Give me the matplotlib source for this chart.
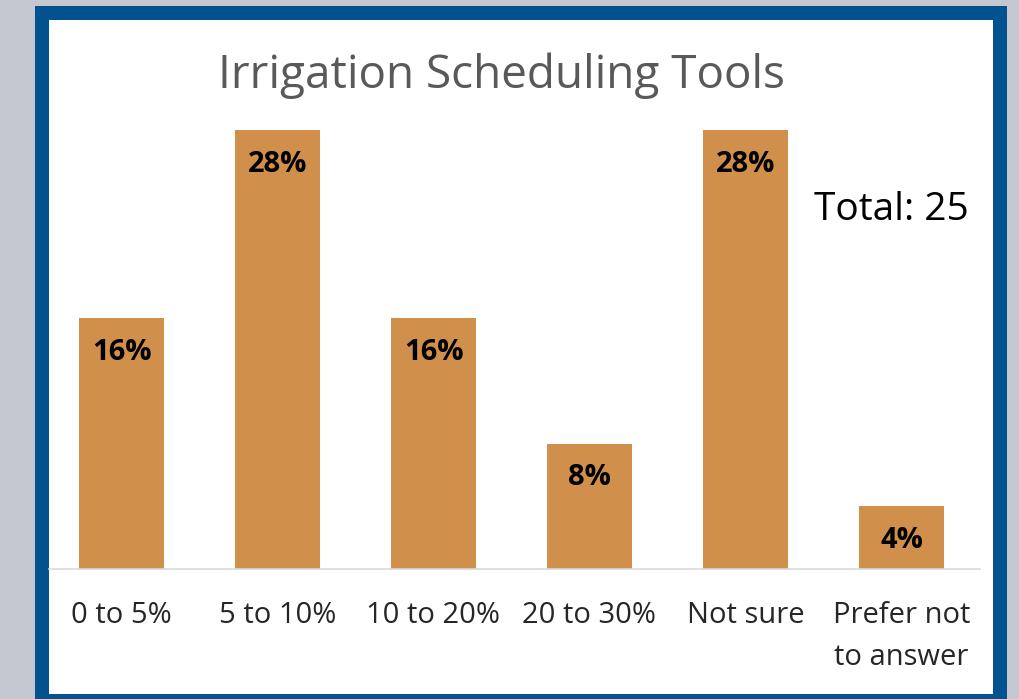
import matplotlib
matplotlib.use("Agg")
import matplotlib.pyplot as plt
from matplotlib.patches import Rectangle

categories = ["0 to 5%", "5 to 10%", "10 to 20%", "20 to 30%", "Not sure", "Prefer not\nto answer"]
percents = [16, 28, 16, 8, 28, 4]
title = "Irrigation Scheduling Tools"
total_text = "Total: 25"

W, H = 1019, 699
plt.rcParams["font.family"] = ["Open Sans", "DejaVu Sans"]

fig = plt.figure(figsize=(W / 100, H / 100), dpi=100, facecolor="#c5c8cf")

# blue frame and white panel, in pixel units converted to figure fractions
def px_rect(x0, y0, x1, y1, color, z):
    fig.patches.append(Rectangle((x0 / W, 1 - y1 / H), (x1 - x0) / W, (y1 - y0) / H,
                                 transform=fig.transFigure, facecolor=color,
                                 edgecolor="none", zorder=z))

px_rect(35, 6, 1007, 699, "#01528f", -2)
px_rect(49, 20, 993, 694, "white", -1)

ax_left, ax_right, ax_top, ax_bottom = 49, 979.5, 120, 569
ax = fig.add_axes([ax_left / W, 1 - ax_bottom / H, (ax_right - ax_left) / W, (ax_bottom - ax_top) / H])
ax.set_facecolor("none")
ax.set_zorder(3)

x = range(len(categories))
ax.bar(x, percents, width=0.545, color="#d08f4a", zorder=2)
ax.set_xlim(-0.5 + (ax_left - 43.5) / 156, 5.5)
ax.set_ylim(0, 28.64)

for xi, v in zip(x, percents):
    ax.text(xi, v - 1.25, f"{v}%", ha="center", va="top", fontsize=21,
            fontweight="bold", color="black", zorder=3)

for s in ["top", "left", "right"]:
    ax.spines[s].set_visible(False)
ax.spines["bottom"].set_color("#d9d9d9")
ax.spines["bottom"].set_linewidth(1.2)
ax.set_yticks([])
ax.set_xticks(list(x))
ax.set_xticklabels(categories, fontsize=21, color="#262626", linespacing=1.6)
ax.tick_params(axis="x", length=0, pad=23)

fig.text(502 / W, 1 - 76 / H, title, ha="center", va="center", fontsize=33, color="#595959", zorder=5)
fig.text(891 / W, 1 - 210 / H, total_text, ha="center", va="center", fontsize=28, color="black", zorder=5)

fig.savefig("out.png", dpi=100, facecolor=fig.get_facecolor())
